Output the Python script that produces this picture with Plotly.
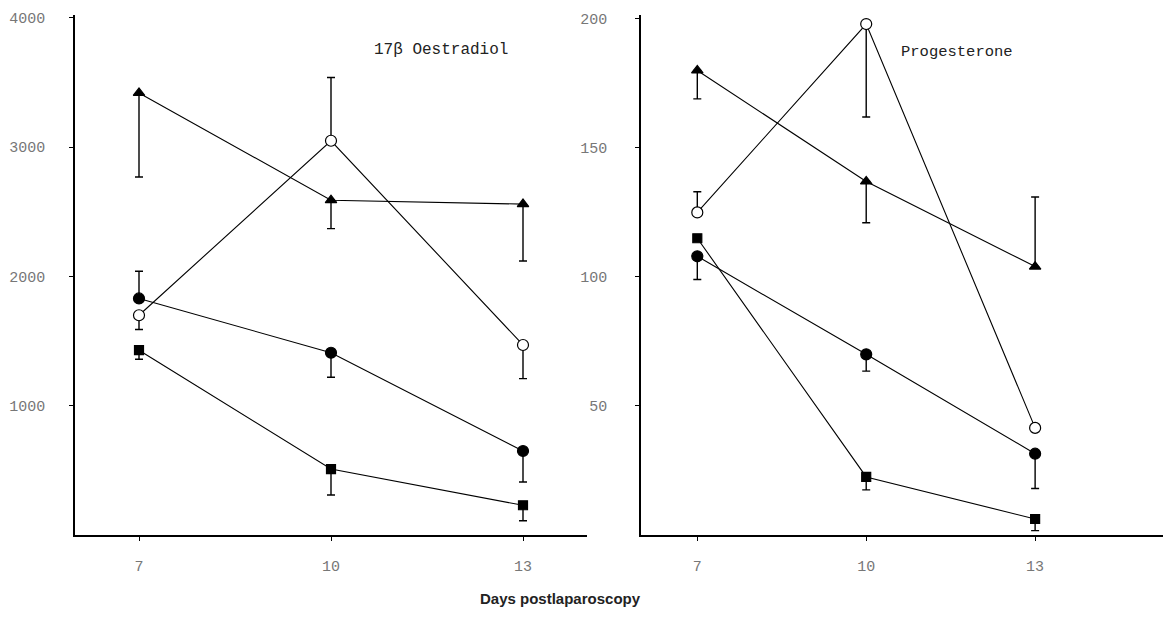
import plotly.graph_objects as go

days = [7, 10, 13]

# 17beta Oestradiol (left panel)
oe_tri = [3420, 2590, 2560]
oe_tri_up = [0, 0, 0]
oe_tri_dn = [650, 220, 440]
oe_open = [1700, 3050, 1470]
oe_open_up = [0, 490, 0]
oe_open_dn = [110, 0, 260]
oe_fill = [1830, 1410, 650]
oe_fill_up = [210, 0, 0]
oe_fill_dn = [0, 190, 240]
oe_sq = [1430, 510, 230]
oe_sq_up = [0, 0, 0]
oe_sq_dn = [70, 200, 120]

# Progesterone (right panel)
pr_tri = [180, 137, 104]
pr_tri_up = [0, 0, 27]
pr_tri_dn = [11, 16, 0]
pr_open = [125, 198, 41.5]
pr_open_up = [8, 0, 0]
pr_open_dn = [0, 36, 0]
pr_fill = [108, 70, 31.5]
pr_fill_up = [0, 0, 0]
pr_fill_dn = [9, 6.5, 13.5]
pr_sq = [115, 22.5, 6.2]
pr_sq_up = [0, 0, 0]
pr_sq_dn = [0, 5, 4.5]

left_yticks = [1000, 2000, 3000, 4000]
right_yticks = [50, 100, 150, 200]

W, H = 1171, 627
OFF = 8  # page body margin


def px(xp):
    return (xp - OFF) / W


def py(yp):
    return 1 - (yp - OFF) / H


fig = go.Figure()


def add(y, up, dn, symbol, fill, size, xa, ya):
    fig.add_trace(go.Scatter(
        x=days, y=y, mode="lines+markers",
        line=dict(color="black", width=1.1),
        marker=dict(symbol=symbol, size=size, color=fill,
                    line=dict(color="black", width=1.2)),
        error_y=dict(type="data", symmetric=False, array=up, arrayminus=dn,
                     color="black", thickness=1.4, width=4),
        xaxis=xa, yaxis=ya, showlegend=False, cliponaxis=False,
    ))


add(oe_sq, oe_sq_up, oe_sq_dn, "square", "black", 9, "x", "y")
add(oe_fill, oe_fill_up, oe_fill_dn, "circle", "black", 11, "x", "y")
add(oe_tri, oe_tri_up, oe_tri_dn, "triangle-up", "black", 10, "x", "y")
add(oe_open, oe_open_up, oe_open_dn, "circle", "white", 11, "x", "y")

add(pr_sq, pr_sq_up, pr_sq_dn, "square", "black", 9, "x2", "y2")
add(pr_fill, pr_fill_up, pr_fill_dn, "circle", "black", 11, "x2", "y2")
add(pr_tri, pr_tri_up, pr_tri_dn, "triangle-up", "black", 10, "x2", "y2")
add(pr_open, pr_open_up, pr_open_dn, "circle", "white", 11, "x2", "y2")

tickfont = dict(family="Liberation Mono", size=15, color="#777")
ydom = [py(535), py(15)]

common_x = dict(showgrid=False, zeroline=False, showline=True, linecolor="black",
                linewidth=1.6, ticks="outside", ticklen=4, tickcolor="black",
                tickvals=days, ticktext=[str(d) for d in days], tickfont=tickfont,
                ticklabelstandoff=12, automargin=False)
common_y = dict(showgrid=False, zeroline=False, showline=True, linecolor="black",
                linewidth=1.6, ticks="outside", ticklen=4, tickcolor="black",
                tickfont=tickfont, automargin=False)

fig.update_layout(
    width=W, height=H,
    margin=dict(l=0, r=0, t=0, b=0, autoexpand=False),
    paper_bgcolor="white", plot_bgcolor="white",
    xaxis=dict(domain=[px(75), px(587)], range=[6, 14], anchor="y", **common_x),
    yaxis=dict(domain=ydom, range=[0, 4023], anchor="x", tickvals=left_yticks,
               ticklabelstandoff=21, **common_y),
    xaxis2=dict(domain=[px(641), px(1168)], range=[6, 15.36], anchor="y2", **common_x),
    yaxis2=dict(domain=ydom, range=[0, 201.5], anchor="x2", tickvals=right_yticks,
                ticklabelstandoff=25, **common_y),
    annotations=[
        dict(text="17β Oestradiol", x=px(372), y=py(50), xref="paper", yref="paper",
             xanchor="left", yanchor="middle", showarrow=False,
             font=dict(family="Liberation Mono", size=16, color="#222")),
        dict(text="Progesterone", x=px(899), y=py(52), xref="paper", yref="paper",
             xanchor="left", yanchor="middle", showarrow=False,
             font=dict(family="Liberation Mono", size=15.5, color="#222")),
        dict(text="<b>Days postlaparoscopy</b>", x=px(560), y=py(598),
             xref="paper", yref="paper", xanchor="center", yanchor="middle",
             showarrow=False, font=dict(family="Liberation Sans", size=15, color="#222")),
    ],
)

fig.write_html("out.html")
